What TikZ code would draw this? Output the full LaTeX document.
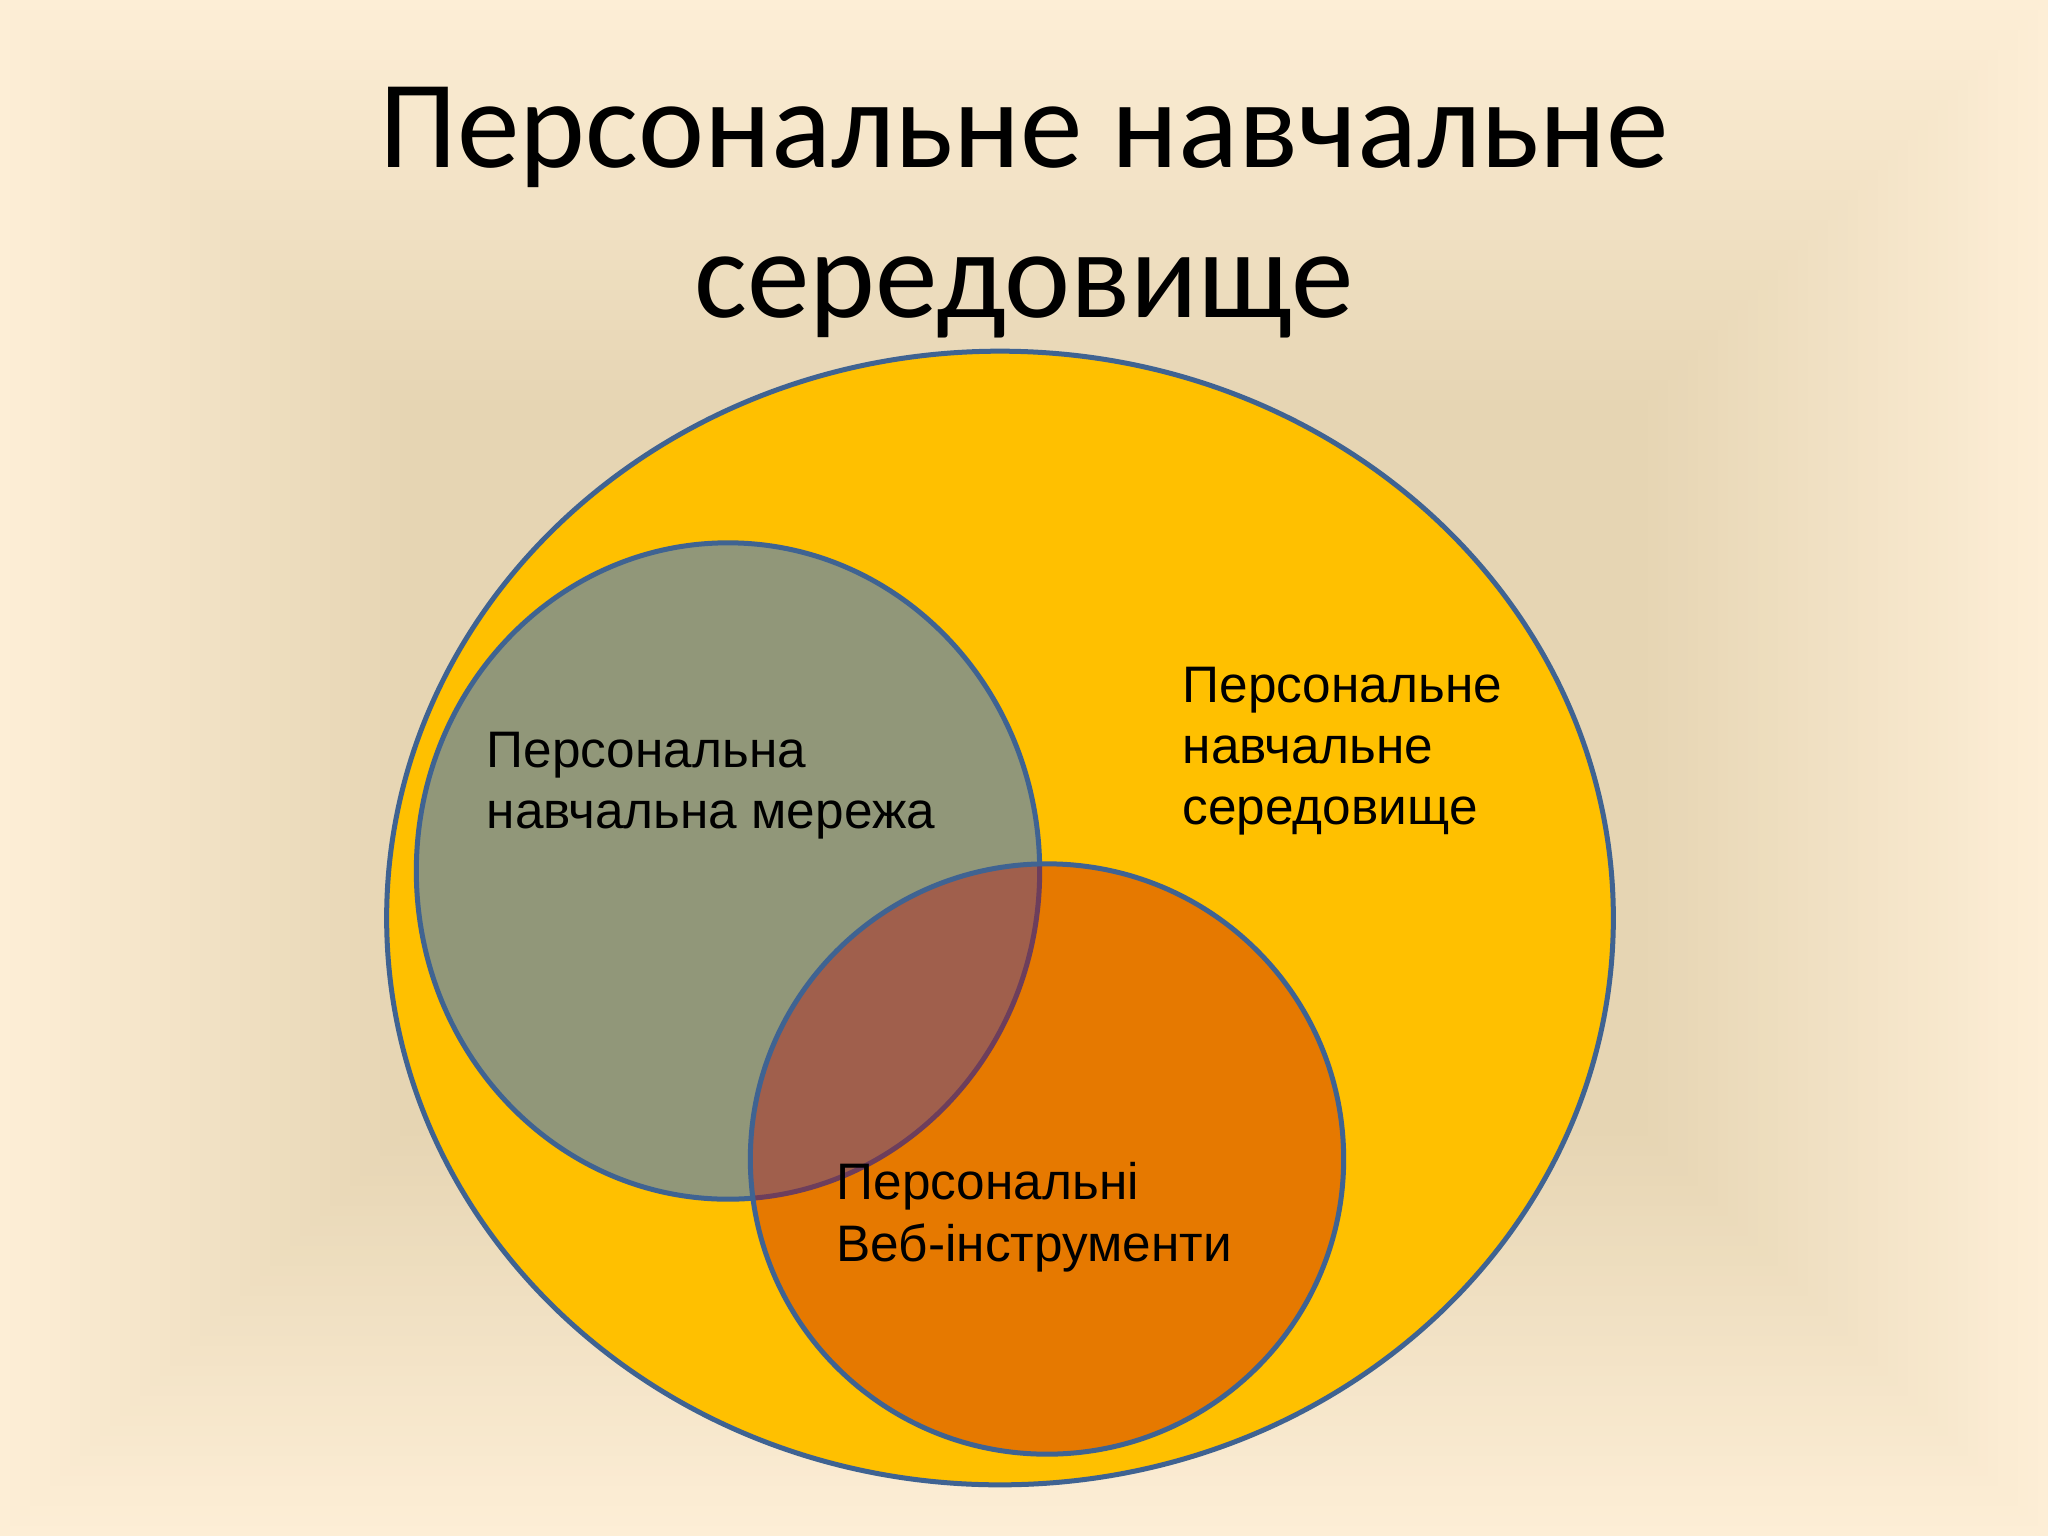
\documentclass[tikz,border=0pt]{standalone}
\usepackage{fontspec}
\usepackage{xcolor}
\usetikzlibrary{shapes.geometric}
\setmainfont{Liberation Sans}
\newfontfamily\titlefont{Carlito}
\definecolor{bgouter}{HTML}{FDEED6}
\definecolor{bginner}{HTML}{E6D5B3}
\definecolor{ringblue}{HTML}{3F6392}
\definecolor{envyellow}{HTML}{FFC000}
\definecolor{netgray}{HTML}{919779}
\definecolor{toolred}{HTML}{BC0000}

\begin{document}
\begin{tikzpicture}[x=0.01cm,y=-0.01cm,
  ring/.style={ellipse,draw=ringblue,line width=0.05cm,inner sep=0pt},
  lbl/.style={anchor=north west,inner sep=0pt,align=left,font=\fontsize{14.6}{17.4}\selectfont}]
\useasboundingbox (0,0) rectangle (2048,1536);
% background
\foreach \i in {0,...,40} {
  \pgfmathsetmacro{\mixpc}{\i*2.5}
  \fill[bginner!\mixpc!bgouter] (\i*10,\i*10) rectangle (2048-\i*10,1536-\i*10);
}
\node (title) at (1024,86) [anchor=north,inner sep=0pt,align=center,font=\titlefont\fontsize{35.6}{42.7}\selectfont] {Персональне навчальне\\середовище};
% sets
\node (pne) at (1000,918) [ring,fill=envyellow,minimum width=12.26cm,minimum height=11.33cm] {};
\node (pnm) at (728,871) [ring,fill=netgray,minimum width=6.23cm,minimum height=6.56cm] {};
\node (pvi) at (1047,1159) [ring,fill=toolred,fill opacity=0.37,minimum width=5.93cm,minimum height=5.90cm] {};
% labels
\node (pnmtext) at (486,731) [lbl] {Персональна\\навчальна мережа};
\node (pnetext) at (1182,666) [lbl] {Персональне\\навчальне\\середовище};
\node (pvitext) at (836,1162) [lbl] {Персональні\\Веб-інструменти};
\end{tikzpicture}
\end{document}
